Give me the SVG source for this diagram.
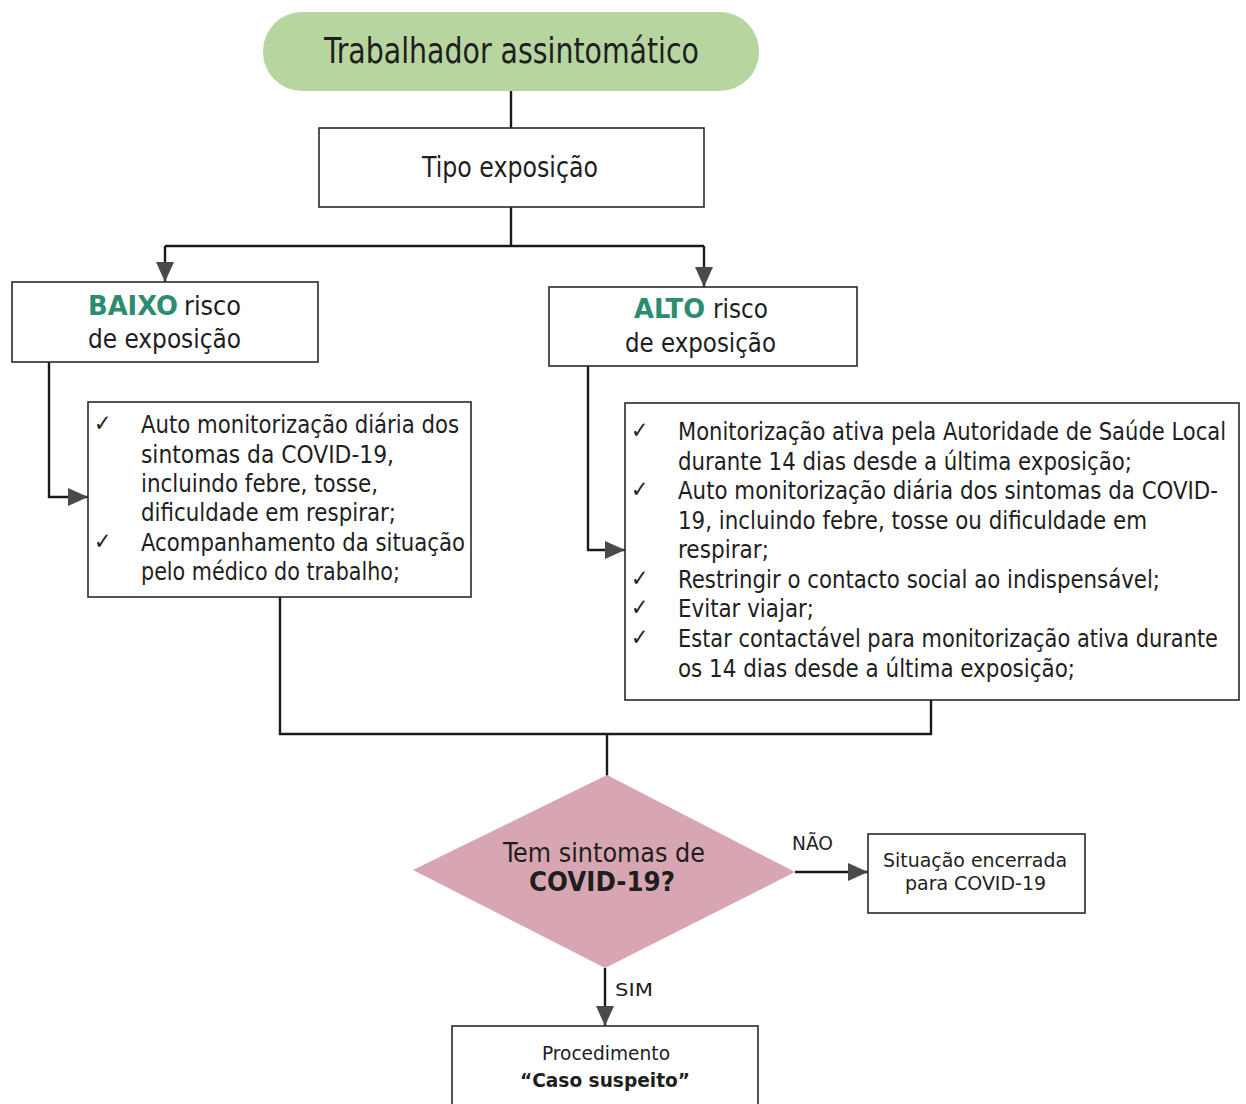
<svg xmlns="http://www.w3.org/2000/svg" width="1246" height="1104" viewBox="0 0 1246 1104">
<style>
  text { font-family: "DejaVu Sans Condensed", "DejaVu Sans", "Liberation Sans", sans-serif; font-stretch: condensed; fill: #1e1e1e; }
  .box { fill: #ffffff; stroke: #2a2a2a; stroke-width: 1.6; }
  .conn { fill: none; stroke: #1a1a1a; stroke-width: 2.4; }
  .arr { marker-end: url(#ah); }
  .green { fill: #2b8c6f; font-weight: bold; }
  .b { font-weight: bold; }
  .li { font-size: 25px; }
  .ck { font-family: "DejaVu Sans", sans-serif; font-size: 23px; }
</style>
<defs>
  <marker id="ah" markerUnits="userSpaceOnUse" markerWidth="20" markerHeight="20" viewBox="0 0 20 18" refX="20" refY="9" orient="auto">
    <path d="M0,0 L20,9 L0,18 Z" fill="#4a4a4a"/>
  </marker>
</defs>
<rect x="0" y="0" width="1246" height="1104" fill="#ffffff"/>

<g id="connectors">
  <path class="conn" d="M511,90 V128"/>
  <path class="conn" d="M511,207 V246"/>
  <path class="conn" d="M165,246 H704"/>
  <path class="conn arr" d="M165,246 V282"/>
  <path class="conn arr" d="M704,246 V287"/>
  <path class="conn arr" d="M49,362 V497 H88"/>
  <path class="conn arr" d="M588,366 V550 H625"/>
  <path class="conn" d="M280,597 V734 H931 V700"/>
  <path class="conn" d="M607,734 V776"/>
  <path class="conn arr" d="M795,872 H868"/>
  <path class="conn arr" d="M605,968 V1026"/>
</g>

<g id="start">
  <rect x="263" y="12" width="496" height="79" rx="39" ry="39" fill="#b7d59f"/>
  <text x="324" y="63" font-size="35" textLength="375" lengthAdjust="spacingAndGlyphs">Trabalhador assintomático</text>
</g>

<g id="tipo">
  <rect class="box" x="319" y="128" width="385" height="79"/>
  <text x="422" y="177" font-size="28" textLength="176" lengthAdjust="spacingAndGlyphs">Tipo exposição</text>
</g>

<g id="baixo">
  <rect class="box" x="12" y="282" width="306" height="80"/>
  <text class="green" x="88" y="315" font-size="26" textLength="90" lengthAdjust="spacingAndGlyphs">BAIXO</text>
  <text x="184" y="315" font-size="26" textLength="57" lengthAdjust="spacingAndGlyphs">risco</text>
  <text x="88" y="348" font-size="26" textLength="153" lengthAdjust="spacingAndGlyphs">de exposição</text>
</g>

<g id="alto">
  <rect class="box" x="549" y="287" width="308" height="79"/>
  <text class="green" x="634" y="318" font-size="26" textLength="71" lengthAdjust="spacingAndGlyphs">ALTO</text>
  <text x="713" y="318" font-size="26" textLength="55" lengthAdjust="spacingAndGlyphs">risco</text>
  <text x="625" y="352" font-size="26" textLength="151" lengthAdjust="spacingAndGlyphs">de exposição</text>
</g>

<g id="baixo-medidas">
  <rect class="box" x="88" y="402" width="383" height="195"/>
  <text class="ck" x="94" y="431">✓</text>
  <text class="ck" x="94" y="549">✓</text>
  <text class="li" x="141" y="433" textLength="318" lengthAdjust="spacingAndGlyphs">Auto monitorização diária dos</text>
  <text class="li" x="141" y="463" textLength="253" lengthAdjust="spacingAndGlyphs">sintomas da COVID-19,</text>
  <text class="li" x="141" y="492" textLength="237" lengthAdjust="spacingAndGlyphs">incluindo febre, tosse,</text>
  <text class="li" x="141" y="521" textLength="255" lengthAdjust="spacingAndGlyphs">dificuldade em respirar;</text>
  <text class="li" x="141" y="551" textLength="324" lengthAdjust="spacingAndGlyphs">Acompanhamento da situação</text>
  <text class="li" x="141" y="580" textLength="259" lengthAdjust="spacingAndGlyphs">pelo médico do trabalho;</text>
</g>

<g id="alto-medidas">
  <rect class="box" x="625" y="403" width="614" height="297"/>
  <text class="ck" x="631" y="438">✓</text>
  <text class="ck" x="631" y="497">✓</text>
  <text class="ck" x="631" y="586">✓</text>
  <text class="ck" x="631" y="615">✓</text>
  <text class="ck" x="631" y="645">✓</text>
  <text class="li" x="678" y="440" textLength="548" lengthAdjust="spacingAndGlyphs">Monitorização ativa pela Autoridade de Saúde Local</text>
  <text class="li" x="678" y="470" textLength="454" lengthAdjust="spacingAndGlyphs">durante 14 dias desde a última exposição;</text>
  <text class="li" x="678" y="499" textLength="540" lengthAdjust="spacingAndGlyphs">Auto monitorização diária dos sintomas da COVID-</text>
  <text class="li" x="678" y="529" textLength="469" lengthAdjust="spacingAndGlyphs">19, incluindo febre, tosse ou dificuldade em</text>
  <text class="li" x="678" y="558" textLength="91" lengthAdjust="spacingAndGlyphs">respirar;</text>
  <text class="li" x="678" y="588" textLength="482" lengthAdjust="spacingAndGlyphs">Restringir o contacto social ao indispensável;</text>
  <text class="li" x="678" y="617" textLength="136" lengthAdjust="spacingAndGlyphs">Evitar viajar;</text>
  <text class="li" x="678" y="647" textLength="540" lengthAdjust="spacingAndGlyphs">Estar contactável para monitorização ativa durante</text>
  <text class="li" x="678" y="677" textLength="397" lengthAdjust="spacingAndGlyphs">os 14 dias desde a última exposição;</text>
</g>

<g id="decisao">
  <polygon points="607,775 795,872 605,968 413,870" fill="#d8a6b2"/>
  <text x="503" y="862" font-size="26" textLength="202" lengthAdjust="spacingAndGlyphs">Tem sintomas de</text>
  <text class="b" x="529" y="891" font-size="26" textLength="146" lengthAdjust="spacingAndGlyphs">COVID-19?</text>
</g>

<g id="labels">
  <text x="792" y="850" font-size="19" textLength="41" lengthAdjust="spacingAndGlyphs">NÃO</text>
  <text x="615" y="996" font-size="18" textLength="38" lengthAdjust="spacingAndGlyphs">SIM</text>
</g>

<g id="encerrada">
  <rect class="box" x="868" y="834" width="217" height="79"/>
  <text x="883" y="867" font-size="20" textLength="184" lengthAdjust="spacingAndGlyphs">Situação encerrada</text>
  <text x="905" y="890" font-size="20" textLength="141" lengthAdjust="spacingAndGlyphs">para COVID-19</text>
</g>

<g id="procedimento">
  <rect class="box" x="452" y="1026" width="306" height="90"/>
  <text x="542" y="1060" font-size="20" textLength="128" lengthAdjust="spacingAndGlyphs">Procedimento</text>
  <text class="b" x="520" y="1087" font-size="20" textLength="170" lengthAdjust="spacingAndGlyphs">“Caso suspeito”</text>
</g>
</svg>
